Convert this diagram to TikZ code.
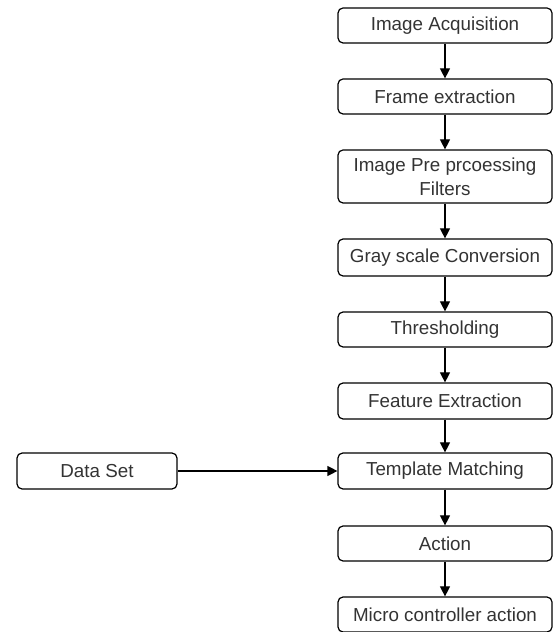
\documentclass[tikz,border=0pt]{standalone}
\usepackage{fontspec}
\setmainfont{Liberation Sans}
\usetikzlibrary{arrows.meta}

\begin{document}
\begin{tikzpicture}[x=1pt, y=1pt,
  stage/.style={draw, line width=1.2pt, rounded corners=5pt, minimum width=214pt,
    minimum height=35pt, inner sep=0pt, align=center, text=black!80,
    font=\fontsize{18.8}{24}\selectfont},
  flow/.style={-{Triangle[length=10pt,width=10pt]}, line width=1.2pt}]
\useasboundingbox (0,0) rectangle (553,632);

\node [stage] (acq) at (445,606.5) {Image Acquisition};
\node [stage] (frame) at (445,535.5) {Frame extraction};
\node [stage, minimum height=53pt] (pre) at (445,455.5) {Image Pre prcoessing\\Filters};
\node [stage, minimum height=37pt] (gray) at (445,374.5) {Gray scale Conversion};
\node [stage] (thresh) at (445,302.5) {Thresholding};
\node [stage, minimum height=36pt] (feat) at (445,231) {Feature Extraction};
\node [stage, minimum height=36pt] (match) at (445,161) {Template Matching};
\node [stage] (act) at (445,88.5) {Action};
\node [stage] (micro) at (445,17.5) {Micro controller action};
\node [stage, minimum width=160pt, minimum height=36pt] (data) at (97,161) {Data Set};

\draw [flow] (acq) -- (frame);
\draw [flow] (frame) -- (pre);
\draw [flow] (pre) -- (gray);
\draw [flow] (gray) -- (thresh);
\draw [flow] (thresh) -- (feat);
\draw [flow] (feat) -- (match);
\draw [flow] (match) -- (act);
\draw [flow] (act) -- (micro);
\draw [flow] (data) -- (match);
\end{tikzpicture}
\end{document}
